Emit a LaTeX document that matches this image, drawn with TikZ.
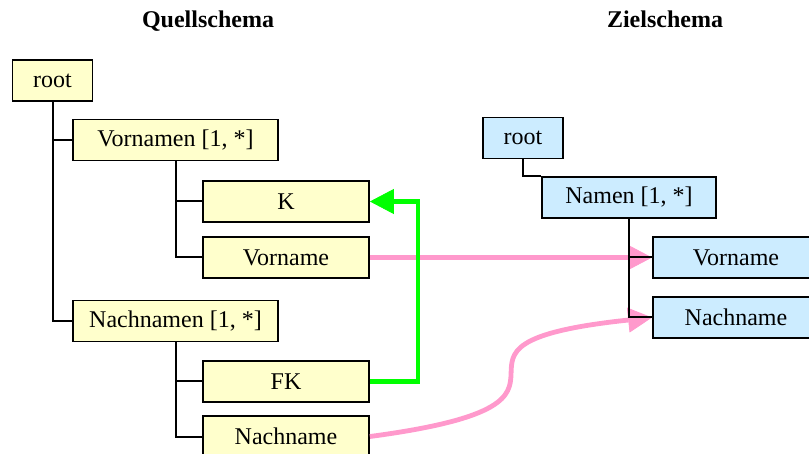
\documentclass[tikz,border=0pt]{standalone}
\usepackage{fontspec}
\setmainfont{Liberation Serif}
\usetikzlibrary{arrows.meta}
\definecolor{qfill}{HTML}{FFFFCC}
\definecolor{zfill}{HTML}{CCECFF}
\definecolor{mappink}{HTML}{FF99CC}
\definecolor{keygreen}{HTML}{00FF00}

\begin{document}
\begin{tikzpicture}[x=0.5pt,y=-0.5pt,font=\fontsize{12}{14}\selectfont,
	qbox/.style={draw,line width=0.9pt,fill=qfill,minimum height=20.5pt,inner sep=0pt},
	zbox/.style={qbox,fill=zfill},
	tree/.style={line width=1pt,to path={|- (\tikztotarget)}},
	maptip/.style={-{Triangle[length=12pt,width=12.5pt,line width=0.4pt]},line width=2.4pt}]
	\useasboundingbox (0,0) rectangle (809,454);
	\clip (0,0) rectangle (809,454);
	% titles
	\node[anchor=base,font=\fontsize{12}{14}\selectfont\bfseries] (qtitle) at (208,28) {Quellschema};
	\node[anchor=base,font=\fontsize{12}{14}\selectfont\bfseries] (ztitle) at (665,28) {Zielschema};
	% source schema
	\node[qbox,minimum width=40pt] (qroot) at (52.5,80.5) {root};
	\node[qbox,minimum width=102.5pt] (qvornamen) at (175.5,140) {Vornamen [1, *]};
	\node[qbox,minimum width=83pt] (qk) at (286,201.5) {K};
	\node[qbox,minimum width=83pt] (qvorname) at (286,257.5) {Vorname};
	\node[qbox,minimum width=102.5pt] (qnachnamen) at (175.5,321) {Nachnamen [1, *]};
	\node[qbox,minimum width=83pt] (qfk) at (286,381.5) {FK};
	\node[qbox,minimum width=83pt] (qnachname) at (286,436.5) {Nachname};
	% target schema
	\node[zbox,minimum width=40pt] (zroot) at (523,138) {root};
	\node[zbox,minimum width=87pt] (znamen) at (629,197.5) {Namen [1, *]};
	\node[zbox,minimum width=83pt] (zvorname) at (736,257.5) {Vorname};
	\node[zbox,minimum width=83pt] (znachname) at (736,317.5) {Nachname};
	% mappings
	\draw[maptip,mappink] (qvorname.east) -- (zvorname.west);
	\draw[maptip,mappink] (qnachname.east) .. controls +(271,-36) and +(-263,28) .. (znachname.west);
	\draw[maptip,keygreen] (qfk.east) -- ++(48,0) |- (qk.east);
	% tree lines
	\path[tree]
	(qroot.south) edge (qvornamen.west) edge (qnachnamen.west)
	(qvornamen.south) edge (qk.west) edge (qvorname.west)
	(qnachnamen.south) edge (qfk.west) edge (qnachname.west)
	(zroot.south) edge (znamen.north west)
	(znamen.south) edge (zvorname.west) edge (znachname.west);
\end{tikzpicture}
\end{document}
